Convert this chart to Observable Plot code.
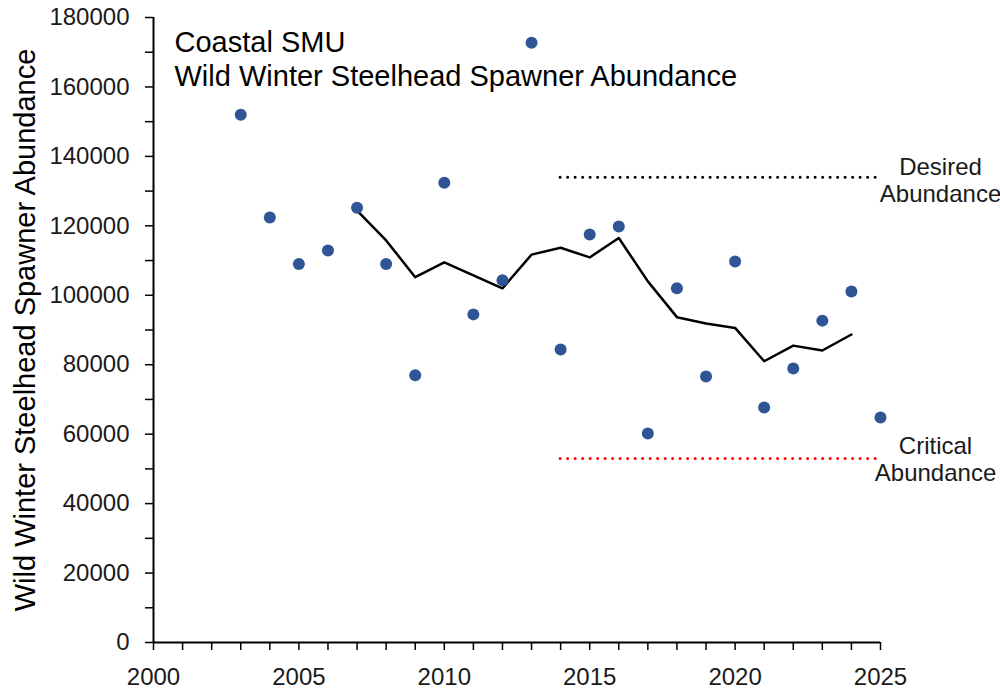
<!DOCTYPE html>
<html>
<head>
<meta charset="utf-8">
<script src="https://cdn.jsdelivr.net/npm/d3@7"></script>
<script src="https://cdn.jsdelivr.net/npm/@observablehq/plot@0.6"></script>
<style>
  html, body { margin: 0; padding: 0; background: #fff; }
  #chart { width: 1000px; height: 689px; }
</style>
</head>
<body>
<div id="chart"></div>
<script>
// Annual spawner abundance
const years = [2003,2004,2005,2006,2007,2008,2009,2010,2011,2012,2013,2014,2015,2016,2017,2018,2019,2020,2021,2022,2023,2024,2025];
const abundance = [152000,122400,109000,112900,125200,109000,77000,132400,94500,104300,172700,84400,117500,119800,60200,102000,76600,109700,67700,78900,92700,101100,64800];

// Running average line
const avgYears = [2007,2008,2009,2010,2011,2012,2013,2014,2015,2016,2017,2018,2019,2020,2021,2022,2023,2024];
const avgValues = [124400,115800,105200,109500,105700,102000,111700,113700,110900,116500,104000,93700,91900,90600,81000,85500,84100,88700];

// Reference levels
const desiredLevel = 134000;
const criticalLevel = 53000;
const refStart = 2014;
const refEnd = 2025;

// Axis ticks
const xTickYears = [2000,2001,2002,2003,2004,2005,2006,2007,2008,2009,2010,2011,2012,2013,2014,2015,2016,2017,2018,2019,2020,2021,2022,2023,2024,2025];
const xLabelYears = [2000,2005,2010,2015,2020,2025];
const yTicks = [0,10000,20000,30000,40000,50000,60000,70000,80000,90000,100000,110000,120000,130000,140000,150000,160000,170000,180000];
const yLabelTicks = [0,20000,40000,60000,80000,100000,120000,140000,160000,180000];

const titleText = "Coastal SMU\nWild Winter Steelhead Spawner Abundance";
const yLabel = "Wild Winter Steelhead Spawner Abundance";
const desiredLabel = "Desired\nAbundance";
const criticalLabel = "Critical\nAbundance";

const points = years.map((y, i) => ({year: y, value: abundance[i]}));
const avg = avgYears.map((y, i) => ({year: y, value: avgValues[i]}));

const font = "'Liberation Sans', Arial, sans-serif";

const chart = Plot.plot({
  width: 1000,
  height: 689,
  marginLeft: 153,
  marginRight: 120,
  marginTop: 17,
  marginBottom: 47,
  style: {fontFamily: font, fontSize: "24px", background: "#fff", color: "#000"},
  x: {domain: [2000, 2025]},
  y: {domain: [0, 180000]},
  marks: [
    // tick marks
    Plot.axisX({ticks: xTickYears, tickSize: 8, tickFormat: () => "", label: null, stroke: "#000", strokeWidth: 1.5}),
    Plot.axisX({ticks: xLabelYears, tickSize: 0, tickPadding: 25, tickFormat: d => String(d), label: null, fontSize: 24, fill: "#1a1a1a"}),
    Plot.axisY({ticks: yTicks, tickSize: 8, tickFormat: () => "", label: null, stroke: "#000", strokeWidth: 1.5}),
    Plot.text(yLabelTicks, {y: d => d, frameAnchor: "left", dx: -24, textAnchor: "end", lineAnchor: "middle", fontSize: 24, fill: "#1a1a1a", text: d => String(d)}),
    Plot.ruleY([0], {stroke: "#000", strokeWidth: 2}),
    Plot.ruleX([2000], {stroke: "#000", strokeWidth: 2}),
    // reference lines
    Plot.ruleY([desiredLevel], {x1: refStart, x2: refEnd, stroke: "#000", strokeWidth: 3, strokeDasharray: "0,7.5", strokeLinecap: "round"}),
    Plot.ruleY([criticalLevel], {x1: refStart, x2: refEnd, stroke: "#ff0000", strokeWidth: 3, strokeDasharray: "0,7.5", strokeLinecap: "round"}),
    Plot.text([desiredLabel], {x: refEnd, y: desiredLevel, dx: 60, dy: 3, textAnchor: "middle", lineHeight: 1.12, fontSize: 24, fill: "#1a1a1a"}),
    Plot.text([criticalLabel], {x: refEnd, y: criticalLevel, dx: 55, dy: 0, textAnchor: "middle", lineHeight: 1.12, fontSize: 24, fill: "#1a1a1a"}),
    // running average
    Plot.line(avg, {x: "year", y: "value", stroke: "#000", strokeWidth: 2.5}),
    // annual points
    Plot.dot(points, {x: "year", y: "value", r: 6, fill: "#2F5597", stroke: "none"}),
    // title
    Plot.text([titleText], {frameAnchor: "top-left", dx: 21, dy: 10, textAnchor: "start", lineAnchor: "top", lineHeight: 1.17, fontSize: 29, fill: "#000"}),
    // y label
    Plot.text([yLabel], {frameAnchor: "left", dx: -128, rotate: -90, textAnchor: "middle", fontSize: 29, fill: "#000"})
  ]
});

document.getElementById("chart").appendChild(chart);
</script>
</body>
</html>
